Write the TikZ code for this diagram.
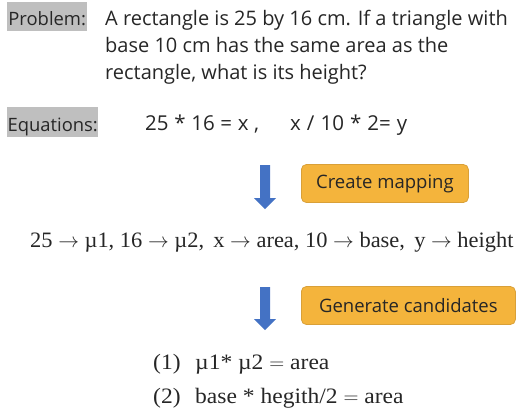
\documentclass[tikz,border=0pt]{standalone}
\usepackage{fontspec}
\setmainfont{Liberation Serif}
\setsansfont{Open Sans}
\newfontfamily\serwide[FakeStretch=1.07]{Liberation Serif}
\newfontfamily\sermap[FakeStretch=1.02]{Liberation Serif}
\usetikzlibrary{arrows.meta}
\definecolor{labgray}{HTML}{BFBFBF}
\definecolor{txt}{HTML}{262626}
\definecolor{orfill}{HTML}{F4B43C}
\definecolor{ordraw}{HTML}{D9A038}
\definecolor{arblue}{HTML}{4472C4}
\tikzset{
  lab/.style={fill=labgray, text=txt, font=\sffamily\fontsize{18.4}{20}\selectfont, inner xsep=0pt, inner ysep=0pt, anchor=base west},
  sanstext/.style={text=txt, font=\sffamily\fontsize{20}{27}\selectfont, inner sep=0pt, anchor=base west},
  eqtext/.style={text=txt, font=\sffamily\fontsize{20.5}{27}\selectfont, inner sep=0pt, anchor=base west},
  maptext/.style={text=txt, font=\sermap\fontsize{22}{24}\selectfont, inner sep=0pt, anchor=base west},
  candtext/.style={text=txt, font=\serwide\fontsize{22}{24}\selectfont, inner sep=0pt, anchor=base west},
  stepbox/.style={fill=orfill, draw=ordraw, line width=0.8pt, rounded corners=5pt, text=txt, font=\sffamily\fontsize{18.5}{20}\selectfont, minimum height=38pt, anchor=west, inner xsep=0pt}
}
\begin{document}
\begin{tikzpicture}[x=1pt,y=-1pt]
\useasboundingbox (0,0) rectangle (519,410);
% Problem
\node[lab, minimum width=80pt, text height=23pt, text depth=6pt] (plab) at (7,25) {Problem:};
\node[sanstext] (p1) at (105,25) {A rectangle is 25 by 16 cm. If a triangle with};
\node[sanstext] (p2) at (105,52) {base 10 cm has the same area as the};
\node[sanstext] (p3) at (105,79) {rectangle, what is its height?};
% Equations
\node[lab, minimum width=91pt, text height=24pt, text depth=6pt] (elab) at (7,131) {Equations:};
\node[eqtext] (eqa) at (145,130) {\makebox[114pt][s]{25\ * 16 = x ,}};
\node[eqtext] (eqb) at (290,130) {\makebox[117pt][s]{x / 10 * 2= y}};
% arrow 1
\fill[arblue] (260,165) -- (270,165) -- (270,198) -- (276,198) -- (265,209) -- (254,198) -- (260,198) -- cycle;
\node[stepbox, minimum width=167pt] (cm) at (301,183.5) {Create mapping};
% mapping
\node[maptext] (map) at (30,247) {25 $\rightarrow$ µ1, 16 $\rightarrow$ µ2,\, x $\rightarrow$ area, 10 $\rightarrow$ base,\, y $\rightarrow$ height};
% arrow 2
\fill[arblue] (260,287) -- (270,287) -- (270,319) -- (276,319) -- (265,330) -- (254,319) -- (260,319) -- cycle;
\node[stepbox, minimum width=214pt] (gc) at (301,305.5) {Generate candidates};
% candidates
\node[candtext] (c1n) at (153,369) {(1)};
\node[candtext] (c1) at (195,369) {µ1* µ2 $=$ area};
\node[candtext] (c2n) at (153,403) {(2)};
\node[candtext] (c2) at (195,403) {base * hegith/2 $=$ area};
\end{tikzpicture}
\end{document}
